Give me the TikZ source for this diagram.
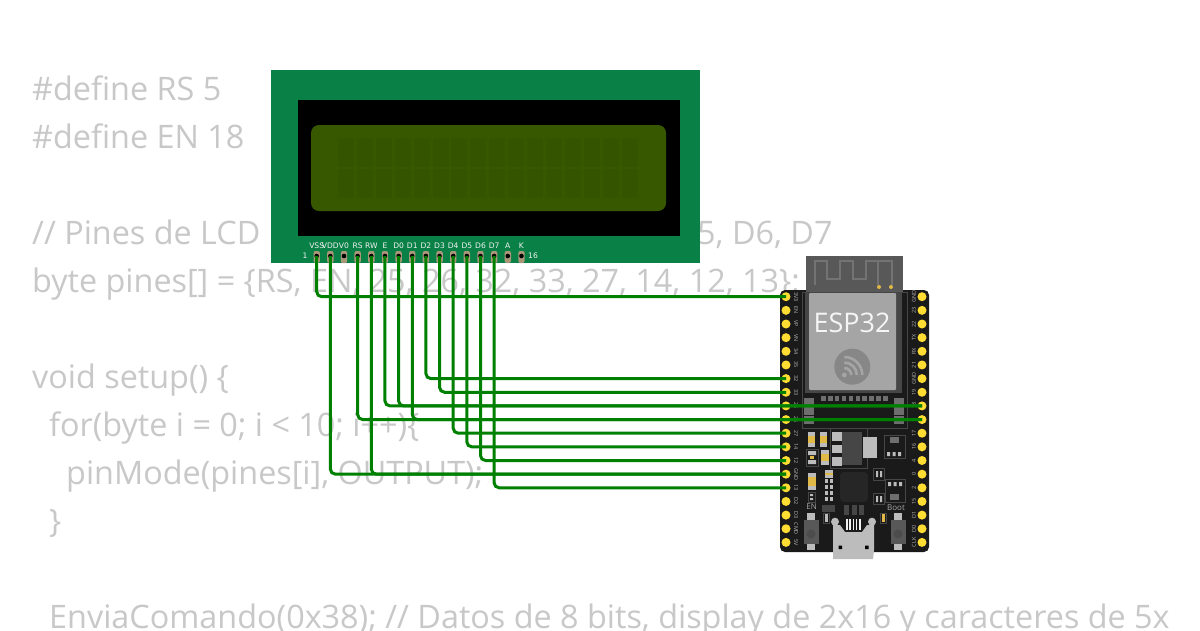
\documentclass[tikz,border=0pt]{standalone}
\usepackage{fontspec}
\setmainfont{Open Sans}
\newfontfamily\lcdfont{DejaVu Sans}
\usepackage{tikz}
\definecolor{codegray}{RGB}{200,200,200}
\definecolor{lcdgreen}{RGB}{8,128,70}
\definecolor{lcdlit}{RGB}{56,88,0}
\definecolor{lcdcell}{RGB}{52,84,0}
\definecolor{padtan}{RGB}{170,150,120}
\definecolor{wiregreen}{RGB}{0,128,0}
\definecolor{boardblack}{RGB}{26,26,26}
\definecolor{pinyellow}{RGB}{255,221,51}
\definecolor{modgray}{RGB}{88,88,88}
\definecolor{antgray}{RGB}{115,115,115}
\definecolor{shieldgray}{RGB}{165,165,165}
\definecolor{logogray}{RGB}{135,135,135}
\definecolor{framegray}{RGB}{70,70,70}
\definecolor{partgray}{RGB}{110,110,110}
\definecolor{palegray}{RGB}{188,188,188}
\definecolor{capyellow}{RGB}{225,185,70}
\tikzset{
  codeline/.style={anchor=base west,inner sep=0pt,text=codegray,font=\fontsize{32.35}{32}\selectfont},
  wire/.style={draw=wiregreen,line width=3pt,rounded corners=5pt},
  lcdlabel/.style={inner sep=0pt,text=white!90!gray,font=\lcdfont\fontsize{7.6}{8}\selectfont},
  pinlabel/.style={inner sep=0pt,text=white!72!black,font=\fontsize{5.4}{5}\selectfont},
  silklabel/.style={inner sep=0pt,text=white!65!black,font=\fontsize{8}{8}\selectfont},
  lcdpin/.style={circle,fill=black,inner sep=0pt,minimum size=4.6pt},
  esppin/.style={circle,fill=pinyellow,inner sep=0pt,minimum size=9pt},
  outline/.style={draw=framegray,line width=0.7pt},
  capbody/.style={fill=palegray},
  capmid/.style={fill=capyellow},
}
\begin{document}
\begin{tikzpicture}[x=1pt,y=-1pt]
\useasboundingbox (0,0) rectangle (1200,630);
\fill[white] (0,0) rectangle (1200,630);
% code behind the parts
\node[codeline] (code1) at (32,100) {\#define RS 5};
\node[codeline] (code2) at (32,148) {\#define EN 18};
\node[codeline] (code3) at (32,244) {// Pines de LCD RS, EN, D0, D1, D2, D3, D4, D5, D6, D7};
\node[codeline] (code4) at (32,292) {byte pines[] = \{RS, EN, 25, 26, 32, 33, 27, 14, 12, 13\};};
\node[codeline] (code5) at (32,388) {void setup() \{};
\node[codeline] (code6) at (49,436) {for(byte i = 0; i < 10; i++)\{};
\node[codeline] (code7) at (66,484) {pinMode(pines[i], OUTPUT);};
\node[codeline] (code8) at (49,532) {\}};
\node[codeline] (code9) at (49,628) {EnviaComando(0x38); // Datos de 8 bits, display de 2x16 y caracteres de 5x};
% LCD
\fill[lcdgreen] (271,70) rectangle (700,263);
\fill[black] (298,100) rectangle (680,236);
\fill[lcdlit,rounded corners=8pt] (311,125) rectangle (666,211);
\foreach \i in {0,...,15} {
  \foreach \j in {0,1} {
    \fill[lcdcell] ({338+\i*18.9},{138+\j*31}) rectangle +(16,29);
  }
}
\foreach \name [count=\i] in {VSS,VDD,V0,RS,RW,E,D0,D1,D2,D3,D4,D5,D6,D7,A,K} {
  \fill[padtan,rounded corners=2pt] ({316.7+(\i-1)*13.65-3.2},251) rectangle +(6.4,12);
  \node[lcdpin] (lcd\i) at ({316.7+(\i-1)*13.65},256) {};
  \node[lcdlabel] (name\i) at ({316.7+(\i-1)*13.65},246) {\name};
}
\node[lcdlabel] (one) at (305,256) {1};
\node[lcdlabel] (sixteen) at (533,256) {16};
% ESP32
\fill[boardblack,rounded corners=5pt] (780,290) rectangle (929,552);
\fill[modgray] (806,256) rectangle (903,292);
\draw[antgray,line width=1.2pt] (815,285) -- (815,261) -- (827,261) -- (827,279) -- (840,279) -- (840,261) -- (853,261) -- (853,279) -- (866,279) -- (866,261) -- (892,261) -- (892,285);
\draw[antgray,line width=1.2pt] (878,261) -- (878,285);
\fill[capyellow] (879,287) circle (2pt) (891,287) circle (2pt);
% module
\draw[outline] (802,292) rectangle (907,428);
\fill[framegray] (805,292) rectangle (902,393);
\fill[shieldgray,rounded corners=1pt] (809,293) rectangle (896,390);
\foreach \i in {0,...,9} {
  \fill[partgray] ({821+\i*6.9},396) rectangle +(4.6,5);
}
\foreach \i in {0,1,2} {
  \fill[partgray] (804,{398+\i*9.2}) rectangle +(10,8);
  \fill[partgray] (894,{398+\i*9.2}) rectangle +(10,8);
}
\node[inner sep=0pt,text=white!92!gray,font=\fontsize{27}{27}\selectfont] (chip) at (852,323) {ESP32};
\fill[logogray] (852.3,366.7) circle (18);
\foreach \r in {7,12.5,18} {
  \draw[shieldgray,line width=2.6pt] ({844.3+\r},375) arc (0:-90:\r);
}
\fill[shieldgray] (844.3,375) circle (2.4);
% parts below the module
\fill[capbody] (808,432) rectangle (815,447);
\fill[capmid] (808,436) rectangle (815,443);
\fill[capbody] (820,432) rectangle (827,447);
\fill[capmid] (820,436) rectangle (827,443);
\draw[outline] (806,449) rectangle (818,466);
\fill[capbody] (808,451) rectangle (816,455) (808,460) rectangle (816,464);
\fill[capmid] (810,456) rectangle (814,459);
\fill[capbody] (821,450) rectangle (829,465);
\fill[capmid] (821,454) rectangle (829,461);
\draw[outline] (830,428) rectangle (867,468);
\fill[framegray] (842,432) rectangle (862,465);
\foreach \i in {0,1,2} {
  \fill[palegray] (832,{432+\i*12.5}) rectangle +(10,8.5);
}
\fill[palegray] (863,437) rectangle (877,458);
\draw[outline] (884,435) rectangle (905,458);
\fill[partgray] (890,437) rectangle (899,443);
\fill[palegray] (887,452) rectangle (890,456) (892.5,452) rectangle (895.5,456) (898,452) rectangle (901,456);
\fill[black!85!white,rounded corners=4pt] (840,472) rectangle (868,502);
\draw[outline] (873,468) rectangle (884,480);
\draw[outline] (873,493) rectangle (884,504);
\fill[palegray] (876,471) rectangle (878,477) (880,471) rectangle (882,477) (876,496) rectangle (878,502) (880,496) rectangle (882,502);
\draw[outline] (885,479) rectangle (905,502);
\fill[palegray] (888,482) rectangle (891,486) (893.5,482) rectangle (896.5,486) (899,482) rectangle (902,486);
\fill[partgray] (890,494) rectangle (899,500);
\fill[capbody] (808,473) rectangle (816,490);
\fill[capmid] (808,477) rectangle (816,486);
\draw[outline] (808,492) rectangle (815,502);
\fill[palegray] (810,494) rectangle (813,496) (810,498) rectangle (813,500);
\foreach \i in {0,...,3} {
  \fill[palegray] (825,{479+\i*6}) rectangle +(3,3.6);
  \fill[palegray] (830,{479+\i*6}) rectangle +(3,3.6);
}
\fill[capbody] (825,470) rectangle (833,478);
\fill[capmid] (825,473) rectangle (833,475);
\node[silklabel] (enlabel) at (811.7,506.5) {EN};
\node[silklabel] (bootlabel) at (896,507.5) {Boot};
\fill[framegray] (822,505) rectangle (835,512);
\foreach \x in {844,851.5,859} {
  \fill[framegray] (\x,505) rectangle +(5,10);
}
\draw[outline] (823,513) rectangle (829,523);
\fill[capbody] (824.5,514) rectangle (827.5,522);
\draw[outline] (880,513) rectangle (886,523);
\fill[capmid] (881.5,514) rectangle (884.5,522);
% buttons
\foreach \x in {811,898} {
  \fill[palegray] ({\x-4},513) rectangle +(8,7);
  \fill[palegray] ({\x-4},544) rectangle +(8,6);
  \fill[modgray] ({\x-7.5},520) rectangle +(15,24);
  \fill[black!70!white] (\x,534) circle (4.5);
}
% usb
\fill[palegray] (835,521.7) circle (4) (872,521.7) circle (4);
\fill[palegray] (833,525) -- (840,525) -- (845,532) -- (862,532) -- (867,525) -- (874,525) -- (874,550) -- (873,559) -- (833,559) -- cycle;
\foreach \i in {0,...,4} {
  \fill[white!90!gray] ({846+\i*3.3},519) rectangle +(1.5,11);
}
\fill[black] (838.5,545.5) rectangle +(3.5,3.5) (865,545.5) rectangle +(3.5,3.5);
% pins
\foreach \name [count=\i] in {3V3,EN,VP,VN,34,35,32,33,25,26,27,14,12,GND,13,D2,D3,CMD,5V} {
  \node[esppin] (left\i) at (786,{296.7+(\i-1)*13.65}) {};
  \node[pinlabel,rotate=-90] (leftname\i) at (796,{296.7+(\i-1)*13.65}) {\name};
}
\foreach \name [count=\i] in {GND,23,22,TX,RX,21,GND,19,18,5,17,16,4,0,2,15,D1,D0,CLK} {
  \node[esppin] (right\i) at (922,{296.7+(\i-1)*13.65}) {};
  \node[pinlabel,rotate=90] (rightname\i) at (914,{296.7+(\i-1)*13.65}) {\name};
}
% wires
\draw[wire] (lcd1.center) |- (left1.center);
\draw[wire] (lcd2.center) |- (left14.center);
\draw[wire] (lcd5.center) |- (left14.center);
\draw[wire] (lcd4.center) |- (right10.center);
\draw[wire] (lcd8.center) |- (right10.center);
\draw[wire] (lcd6.center) |- (right9.center);
\draw[wire] (lcd7.center) |- (right9.center);
\draw[wire] (lcd9.center) |- (left7.center);
\draw[wire] (lcd10.center) |- (left8.center);
\draw[wire] (lcd11.center) |- (left11.center);
\draw[wire] (lcd12.center) |- (left12.center);
\draw[wire] (lcd13.center) |- (left13.center);
\draw[wire] (lcd14.center) |- (left15.center);
\end{tikzpicture}
\end{document}
